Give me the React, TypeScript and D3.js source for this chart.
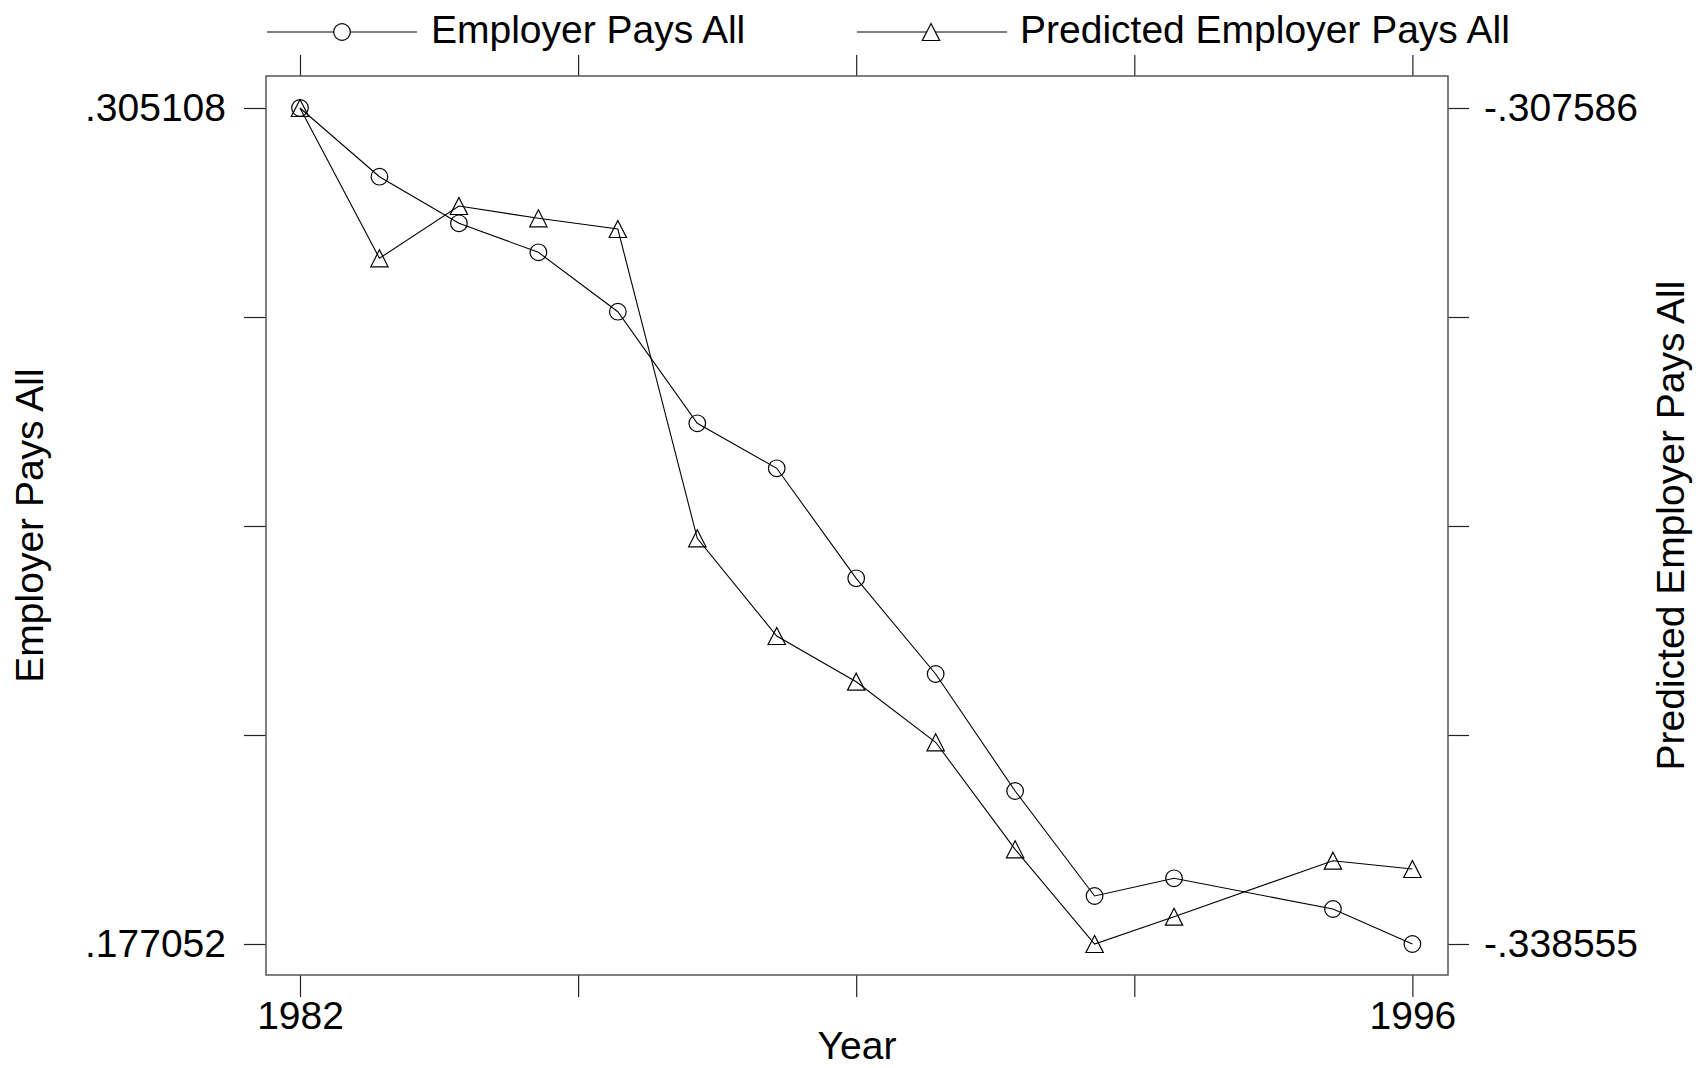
import React, { useRef, useEffect } from 'react';
import * as d3 from 'd3';

// years (1994 is missing in the source data)
const years = [1982, 1983, 1984, 1985, 1986, 1987, 1988, 1989, 1990, 1991, 1992, 1993, 1995, 1996];
const employerPaysAll = [
  0.305108, 0.294585, 0.287447, 0.283004, 0.273906, 0.256812, 0.249919,
  0.233069, 0.21841, 0.200488, 0.184405, 0.187116, 0.182414, 0.177052,
];
const predictedEmployerPaysAll = [
  -0.307586, -0.313154, -0.311216, -0.311672, -0.312068, -0.323526, -0.327145,
  -0.328838, -0.331083, -0.335047, -0.338555, -0.337544, -0.335469, -0.335777,
];
const xTickValues = [1982, 1985.5, 1989, 1992.5, 1996];
const xTickLabels = ['1982', '', '', '', '1996'];
const leftTickLabels = ['.177052', '', '', '', '.305108'];
const rightTickLabels = ['-.338555', '', '', '', '-.307586'];

const W = 1702;
const H = 1068;
const FONT = "'Liberation Sans', Arial, Helvetica, sans-serif";
const FS = 39;

type Sel = d3.Selection<SVGSVGElement, unknown, null, undefined>;

function drawChart(svg: Sel) {
  svg.selectAll('*').remove();

  const frame = { left: 266, right: 1448, top: 76, bottom: 975 };

  const x = d3.scaleLinear().domain([1982, 1996]).range([300, 1412.4]);
  const yL = d3.scaleLinear().domain([0.177052, 0.305108]).range([944, 108]);
  const yR = d3.scaleLinear().domain([-0.338555, -0.307586]).range([944, 108]);

  // five evenly spaced ticks from min to max
  const tickVals = (s: d3.ScaleLinear<number, number>) => {
    const [a, b] = s.domain();
    return d3.range(5).map(i => a + (i * (b - a)) / 4);
  };

  svg.append('rect').attr('width', W).attr('height', H).attr('fill', '#fff');

  const styleAxis = (g: any) => {
    g.select('.domain').remove();
    g.selectAll('line').attr('stroke', '#222').attr('stroke-width', 1.2);
    g.attr('font-family', FONT).attr('font-size', FS);
    g.selectAll('text').attr('fill', '#000');
  };

  // left axis
  svg.append('g')
    .attr('transform', `translate(${frame.left},0)`)
    .call(d3.axisLeft(yL).tickValues(tickVals(yL)).tickSize(22).tickSizeOuter(0).tickPadding(18)
      .tickFormat((d, i) => leftTickLabels[i]))
    .call(styleAxis);

  // right axis
  svg.append('g')
    .attr('transform', `translate(${frame.right},0)`)
    .call(d3.axisRight(yR).tickValues(tickVals(yR)).tickSize(21).tickSizeOuter(0).tickPadding(15)
      .tickFormat((d, i) => rightTickLabels[i]))
    .call(styleAxis);

  // bottom axis
  svg.append('g')
    .attr('transform', `translate(0,${frame.bottom})`)
    .call(d3.axisBottom(x).tickValues(xTickValues).tickSize(22).tickSizeOuter(0).tickPadding(4)
      .tickFormat((d, i) => xTickLabels[i]))
    .call(styleAxis);

  // top axis
  svg.append('g')
    .attr('transform', `translate(0,${frame.top})`)
    .call(d3.axisTop(x).tickValues(xTickValues).tickSize(21).tickSizeOuter(0).tickFormat(() => ''))
    .call(styleAxis);

  // frame
  svg.append('rect')
    .attr('x', frame.left)
    .attr('y', frame.top)
    .attr('width', frame.right - frame.left)
    .attr('height', frame.bottom - frame.top)
    .attr('fill', 'none')
    .attr('stroke', '#555')
    .attr('stroke-width', 1.5);

  const circleR = 8.3;
  const triPath = (cx: number, cy: number, s = 8.5) =>
    `M${cx},${cy - s}L${cx + s * 1.02},${cy + s}L${cx - s * 1.02},${cy + s}Z`;

  const lineL = d3.line<number>().x((d, i) => x(years[i])).y(d => yL(d));
  const lineR = d3.line<number>().x((d, i) => x(years[i])).y(d => yR(d));

  svg.append('path')
    .datum(employerPaysAll)
    .attr('d', lineL)
    .attr('fill', 'none')
    .attr('stroke', '#000')
    .attr('stroke-width', 1.1);

  svg.append('path')
    .datum(predictedEmployerPaysAll)
    .attr('d', lineR)
    .attr('fill', 'none')
    .attr('stroke', '#000')
    .attr('stroke-width', 1.1);

  svg.append('g')
    .selectAll('circle')
    .data(employerPaysAll)
    .join('circle')
    .attr('cx', (d, i) => x(years[i]))
    .attr('cy', d => yL(d))
    .attr('r', circleR)
    .attr('fill', 'none')
    .attr('stroke', '#000')
    .attr('stroke-width', 1.2);

  svg.append('g')
    .selectAll('path')
    .data(predictedEmployerPaysAll)
    .join('path')
    .attr('d', (d, i) => triPath(x(years[i]), yR(d)))
    .attr('fill', 'none')
    .attr('stroke', '#000')
    .attr('stroke-width', 1.2);

  // legend
  const leg = svg.append('g').attr('font-family', FONT).attr('font-size', FS);
  const legY = 32;
  leg.append('line').attr('x1', 267).attr('x2', 417).attr('y1', legY).attr('y2', legY)
    .attr('stroke', '#000').attr('stroke-width', 1.1);
  leg.append('circle').attr('cx', 342).attr('cy', legY).attr('r', circleR)
    .attr('fill', '#fff').attr('stroke', '#000').attr('stroke-width', 1.2);
  leg.append('text').attr('x', 431).attr('y', 43).text('Employer Pays All');

  leg.append('line').attr('x1', 857).attr('x2', 1007).attr('y1', legY).attr('y2', legY)
    .attr('stroke', '#000').attr('stroke-width', 1.1);
  leg.append('path').attr('d', triPath(931, legY))
    .attr('fill', '#fff').attr('stroke', '#000').attr('stroke-width', 1.2);
  leg.append('text').attr('x', 1020).attr('y', 43).text('Predicted Employer Pays All');

  // axis titles
  const midY = (frame.top + frame.bottom) / 2;
  svg.append('text')
    .attr('transform', `translate(43,${midY}) rotate(-90)`)
    .attr('text-anchor', 'middle')
    .attr('font-family', FONT)
    .attr('font-size', FS)
    .text('Employer Pays All');

  svg.append('text')
    .attr('transform', `translate(1684,${midY}) rotate(-90)`)
    .attr('text-anchor', 'middle')
    .attr('font-family', FONT)
    .attr('font-size', FS)
    .text('Predicted Employer Pays All');

  svg.append('text')
    .attr('x', (frame.left + frame.right) / 2)
    .attr('y', 1059)
    .attr('text-anchor', 'middle')
    .attr('font-family', FONT)
    .attr('font-size', FS)
    .text('Year');
}

export default function App() {
  const ref = useRef<SVGSVGElement>(null);

  useEffect(() => {
    if (ref.current) {
      drawChart(d3.select(ref.current));
    }
  }, []);

  return (
    <svg
      ref={ref}
      width={W}
      height={H}
      style={{ position: 'absolute', left: 0, top: 0, display: 'block' }}
    />
  );
}
